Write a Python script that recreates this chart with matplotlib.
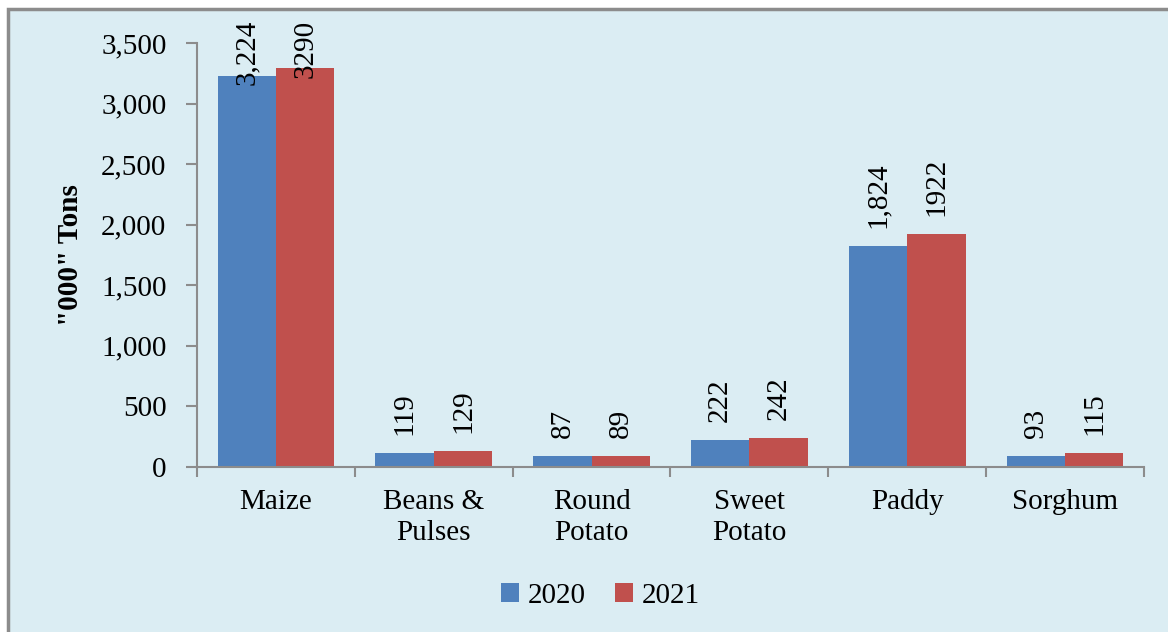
import matplotlib.pyplot as plt
import numpy as np
from matplotlib.patches import Rectangle
from matplotlib.ticker import FuncFormatter

# datos del gráfico
crops = ['Maize', 'Beans &\nPulses', 'Round\nPotato', 'Sweet\nPotato', 'Paddy', 'Sorghum']
vals_2020 = [3224, 119, 87, 222, 1824, 93]
vals_2021 = [3290, 129, 89, 242, 1922, 115]
labels_2020 = ['3,224', '119', '87', '222', '1,824', '93']
labels_2021 = ['3290', '129', '89', '242', '1922', '115']
years = ['2020', '2021']

col_2020 = '#4F81BD'
col_2021 = '#C0504D'
bg = '#DBEDF3'
grey = '#8C8C8C'

plt.rcParams['font.family'] = ['Liberation Serif', 'DejaVu Serif']
plt.rcParams['font.size'] = 21

fig = plt.figure(figsize=(11.68, 6.32), dpi=100)
fig.patch.set_facecolor('white')
# fondo y marco del área del gráfico
frame = Rectangle((8 / 1168, -0.01), 1.02, 1 - 9 / 632 + 0.01,
                  transform=fig.transFigure, facecolor=bg,
                  edgecolor=grey, linewidth=2.5, zorder=-10)
fig.add_artist(frame)

ax = fig.add_axes([197 / 1168, 1 - 467 / 632, (1144 - 197) / 1168, (467 - 43) / 632])
ax.set_facecolor('none')
ax.set_zorder(1)

x = np.arange(len(crops))
w = 0.37
b1 = ax.bar(x - w / 2, vals_2020, w, color=col_2020, label=years[0], zorder=2)
b2 = ax.bar(x + w / 2, vals_2021, w, color=col_2021, label=years[1], zorder=2)

ax.set_xlim(-0.5, len(crops) - 0.5)
ax.set_ylim(0, 3500)
ax.set_yticks(np.arange(0, 3501, 500))
ax.yaxis.set_major_formatter(FuncFormatter(lambda v, p: f'{int(v):,}'))

ax.set_xticks(x)
ax.set_xticklabels(crops, linespacing=1.25)
ax.set_xticks(np.arange(-0.5, len(crops), 1), minor=True)
ax.tick_params(axis='x', which='major', length=0, pad=16)
ax.tick_params(axis='x', which='minor', length=7, width=1.5, color=grey)
ax.tick_params(axis='y', length=8, width=1.5, color=grey, pad=14)

for s in ['top', 'right']:
    ax.spines[s].set_visible(False)
for s in ['left', 'bottom']:
    ax.spines[s].set_color(grey)
    ax.spines[s].set_linewidth(1.5)

ax.set_ylabel('"000" Tons', fontweight='bold', labelpad=12)

# etiquetas de valores, giradas
for bars, labs in [(b1, labels_2020), (b2, labels_2021)]:
    for bar, lab in zip(bars, labs):
        cx = bar.get_x() + bar.get_width() / 2
        h = bar.get_height()
        if h > 3000:
            ax.annotate(lab, (cx, 3500), xytext=(0, 17), textcoords='offset points',
                        rotation=90, ha='center', va='top', annotation_clip=False)
        else:
            ax.annotate(lab, (cx, h), xytext=(0, 13), textcoords='offset points',
                        rotation=90, ha='center', va='bottom')

ax.legend(loc='center', bbox_to_anchor=(600 / 1168, 1 - 596 / 632),
          bbox_transform=fig.transFigure, ncol=2, frameon=False,
          handlelength=0.62, handleheight=0.62, handletextpad=0.3,
          columnspacing=1.0)

fig.savefig('out.png', dpi=100, facecolor=fig.get_facecolor())
